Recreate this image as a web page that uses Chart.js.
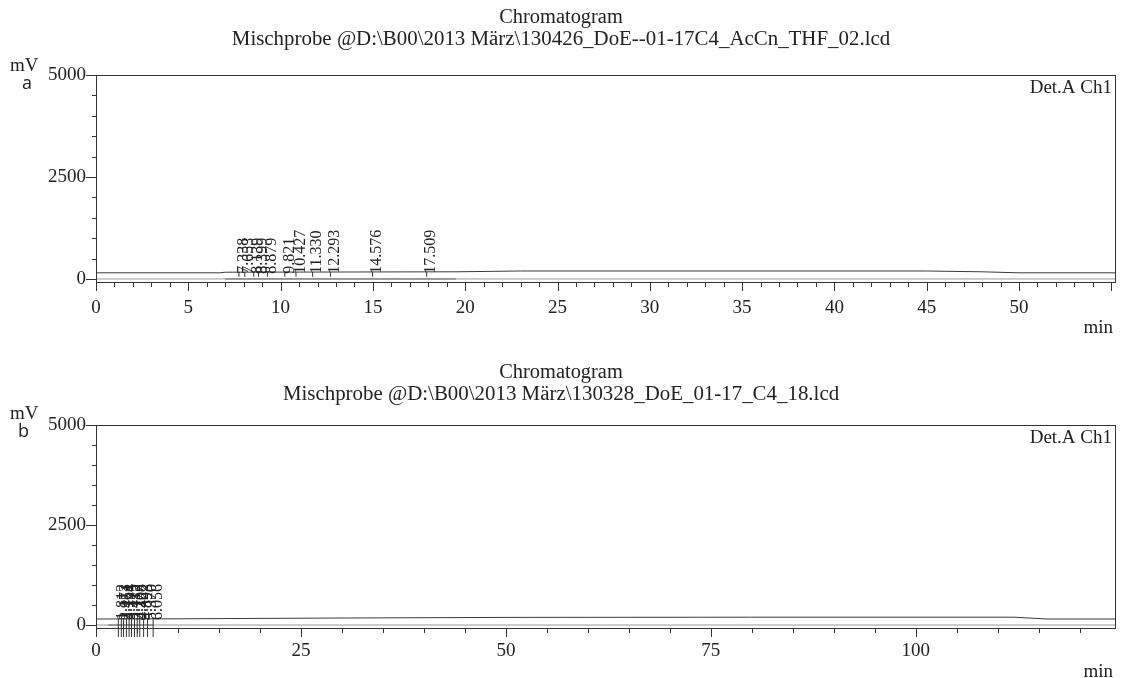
<!DOCTYPE html>
<html>
<head>
<meta charset="utf-8">
<script src="https://cdn.jsdelivr.net/npm/chart.js@4.4.1/dist/chart.umd.min.js"></script>
<style>
  body { margin: 0; background: #fff; }
  #wrap { position: relative; width: 1123px; height: 678px; }
  .box { position: absolute; left: 0; width: 1123px; }
  #boxA { top: 0; height: 345px; }
  #boxB { top: 345px; height: 333px; }
</style>
</head>
<body>
<div id="wrap">
  <div class="box" id="boxA"><canvas id="chartA"></canvas></div>
  <div class="box" id="boxB"><canvas id="chartB"></canvas></div>
</div>
<script>
// Chromatogram a
var titleA = ['Chromatogram', 'Mischprobe @D:\\B00\\2013 März\\130426_DoE--01-17C4_AcCn_THF_02.lcd'];
var traceTimeA = [0, 6.7, 7.0, 19.5, 23, 45, 48, 50, 55.2];
var traceValA = [150, 150, 165, 175, 195, 195, 175, 150, 150];
var baseTimeA = [7.0, 19.5];
var peakTimesA = [7.338, 7.653, 8.139, 8.399, 8.879, 9.821, 10.427, 11.330, 12.293, 14.576, 17.509];
var xTickLabelsA = [0, 5, 10, 15, 20, 25, 30, 35, 40, 45, 50];
var xMaxA = 55.2;

// Chromatogram b
var titleB = ['Chromatogram', 'Mischprobe @D:\\B00\\2013 März\\130328_DoE_01-17_C4_18.lcd'];
var traceTimeB = [0, 10, 30, 50, 80, 112, 116, 124.3];
var traceValB = [150, 155, 175, 190, 195, 195, 150, 150];
var baseTimeB = [1.5, 7.0];
var peakTimesB = [1.812, 2.173, 2.451, 2.794, 3.125, 3.412, 3.777, 4.108, 4.422, 4.893, 5.370, 6.056];
var xTickLabelsB = [0, 25, 50, 75, 100];
var xMaxB = 124.3;

// y-Achse (mV)
var yMin = -75;
var yMax = 5000;
var yLabels = [0, 2500, 5000];

var SERIF = '"Liberation Serif", "DejaVu Serif", serif';
var INK = '#222';

function toPoints(xs, ys) {
    return xs.map((x, i) => ({ x: x, y: ys[i] }));
}

// Plugin: Rahmen, Ticks, Texte, Peak-Beschriftungen
var chromPlugin = {
    id: 'chrom',
    afterDraw(chart) {
        const o = chart.options.plugins.chrom;
        const ctx = chart.ctx;
        const a = chart.chartArea;
        const xs = chart.scales.x;
        const ys = chart.scales.y;
        ctx.save();
        ctx.strokeStyle = '#333';
        ctx.lineWidth = 1;
        ctx.strokeRect(a.left + 0.5, a.top + 0.5, a.right - a.left, a.bottom - a.top);

        // x ticks
        ctx.beginPath();
        xs.ticks.forEach(t => {
            const px = Math.round(xs.getPixelForValue(t.value)) + 0.5;
            const len = (t.value % o.majorX === 0) ? 9 : 5;
            ctx.moveTo(px, a.bottom);
            ctx.lineTo(px, a.bottom + len);
        });
        // y ticks
        ys.ticks.forEach(t => {
            const py = Math.round(ys.getPixelForValue(t.value)) + 0.5;
            const len = (t.value % 2500 === 0) ? 10 : 4;
            ctx.moveTo(a.left, py);
            ctx.lineTo(a.left - len, py);
        });
        ctx.stroke();

        // Titel (etwas breiter gezogen wie im Original)
        ctx.fillStyle = INK;
        ctx.textAlign = 'center';
        ctx.textBaseline = 'middle';
        ctx.font = '20px ' + SERIF;
        ctx.save();
        ctx.translate(561, 0);
        ctx.scale(1.02, 1);
        ctx.fillText(o.title[0], 0, o.titleY);
        ctx.restore();
        ctx.save();
        ctx.translate(561, 0);
        ctx.scale(1.045, 1);
        ctx.fillText(o.title[1], 0, o.titleY + 22);
        ctx.restore();

        ctx.textAlign = 'left';
        ctx.font = '19px ' + SERIF;
        ctx.fillText('mV', 10, o.mvY);
        ctx.font = '18px "Open Sans", "Liberation Sans", sans-serif';
        ctx.fillText(o.letter, o.letterX, o.mvY + 18);

        ctx.font = '19px ' + SERIF;
        ctx.textAlign = 'right';
        ctx.fillText('Det.A Ch1', a.right - 3, a.top + 13);
        ctx.fillText('min', 1113, o.minY);

        // Peak-Beschriftungen (senkrecht)
        const y0 = ys.getPixelForValue(o.labelBase);
        ctx.font = '16px ' + SERIF;
        ctx.textAlign = 'left';
        ctx.textBaseline = 'middle';
        o.peaks.forEach(t => {
            const px = xs.getPixelForValue(t);
            ctx.save();
            ctx.translate(px + 12, y0 + 1);
            ctx.rotate(-Math.PI / 2);
            ctx.fillText(t.toFixed(3), 0, 0);
            ctx.restore();
            ctx.beginPath();
            ctx.moveTo(px + 7.5, y0 - 1);
            ctx.lineTo(px + 7.5, y0 + o.markLen);
            ctx.stroke();
        });
        ctx.restore();
    }
};

function makeChart(id, cfg) {
    return new Chart(document.getElementById(id), {
        type: 'line',
        data: {
            datasets: [
                {
                    data: [{ x: 0, y: 0 }, { x: cfg.xMax, y: 0 }],
                    borderColor: '#9a9a9a',
                    borderWidth: 1
                },
                {
                    data: toPoints(cfg.baseTime, [0, 0]),
                    borderColor: '#333',
                    borderWidth: 1
                },
                {
                    data: toPoints(cfg.traceTime, cfg.traceVal),
                    borderColor: '#3a3a3a',
                    borderWidth: 1
                }
            ]
        },
        options: {
            responsive: true,
            maintainAspectRatio: false,
            animation: false,
            events: [],
            elements: { point: { radius: 0 }, line: { tension: 0 } },
            layout: { padding: { top: cfg.padTop, right: 8, left: 0, bottom: 0 } },
            plugins: {
                legend: { display: false },
                tooltip: { enabled: false },
                chrom: {
                    title: cfg.title,
                    titleY: cfg.titleY,
                    mvY: cfg.mvY,
                    letter: cfg.letter,
                    letterX: cfg.letterX,
                    minY: cfg.minY,
                    peaks: cfg.peaks,
                    majorX: cfg.majorX,
                    labelBase: cfg.labelBase,
                    markLen: cfg.markLen
                }
            },
            scales: {
                x: {
                    type: 'linear',
                    min: 0,
                    max: cfg.xMax,
                    afterBuildTicks(scale) {
                        const t = [];
                        for (let v = 0; v <= cfg.xMax; v += cfg.minorX) t.push({ value: v });
                        scale.ticks = t;
                    },
                    afterFit(scale) { scale.height = cfg.xHeight; },
                    grid: { color: 'transparent', drawOnChartArea: false, tickLength: 5 },
                    border: { color: '#333' },
                    ticks: {
                        padding: cfg.xPad,
                        maxRotation: 0,
                        autoSkip: false,
                        color: INK,
                        font: { family: SERIF, size: 19 },
                        callback: v => (cfg.xLabels.includes(v) ? v : '')
                    }
                },
                y: {
                    type: 'linear',
                    min: yMin,
                    max: yMax,
                    afterBuildTicks(scale) {
                        const t = [];
                        for (let v = 0; v <= yMax; v += 500) t.push({ value: v });
                        scale.ticks = t;
                    },
                    afterFit(scale) { scale.width = 96; },
                    grid: { color: 'transparent', drawOnChartArea: false, tickLength: 4 },
                    border: { color: '#333' },
                    ticks: {
                        padding: 6,
                        autoSkip: false,
                        color: INK,
                        font: { family: SERIF, size: 19 },
                        callback: v => (yLabels.includes(v) ? v : '')
                    }
                }
            }
        },
        plugins: [chromPlugin]
    });
}

makeChart('chartA', {
    title: titleA, titleY: 18, mvY: 66, letter: 'a', letterX: 22, minY: 328,
    traceTime: traceTimeA, traceVal: traceValA, baseTime: baseTimeA,
    peaks: peakTimesA, xMax: xMaxA, minorX: 1, majorX: 5, xLabels: xTickLabelsA,
    padTop: 75, xHeight: 63, xPad: 10, labelBase: 150, markLen: 4
});

makeChart('chartB', {
    title: titleB, titleY: 28, mvY: 69, letter: 'b', letterX: 18, minY: 327,
    traceTime: traceTimeB, traceVal: traceValB, baseTime: baseTimeB,
    peaks: peakTimesB, xMax: xMaxB, minorX: 5, majorX: 25, xLabels: xTickLabelsB,
    padTop: 80, xHeight: 50, xPad: 7, labelBase: 150, markLen: 18
});
</script>
</body>
</html>
